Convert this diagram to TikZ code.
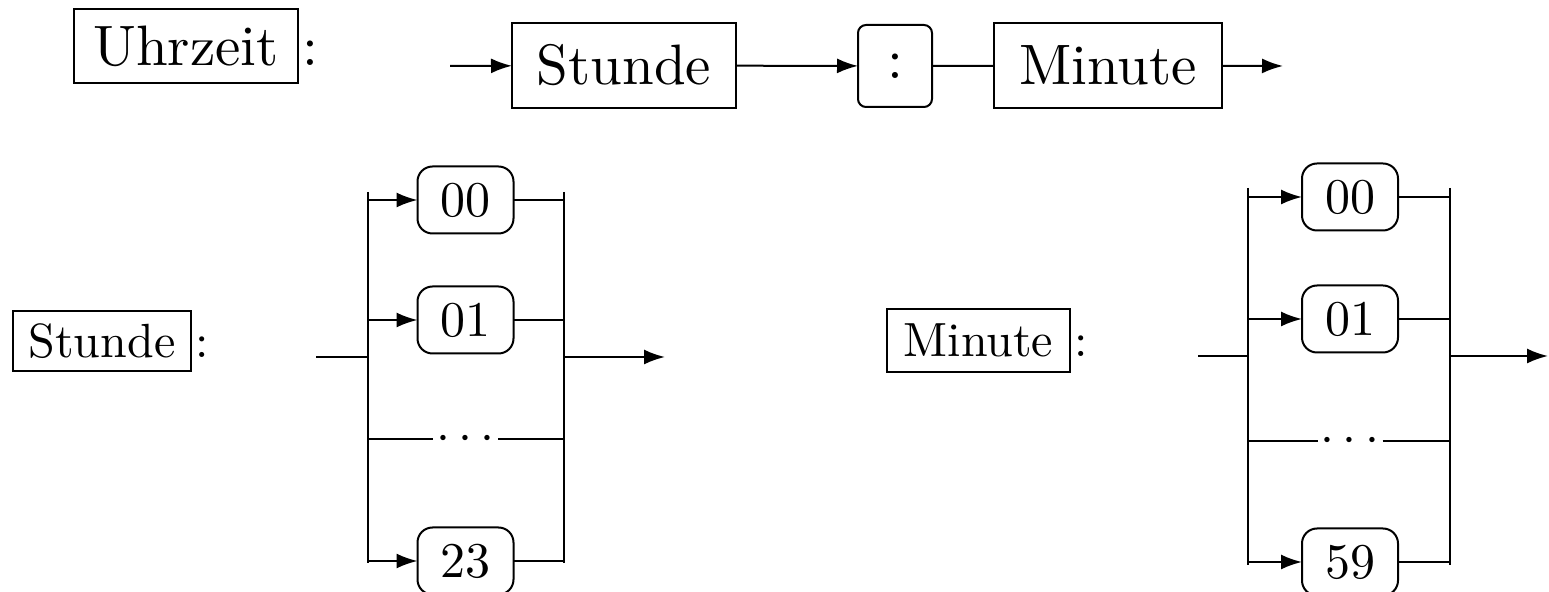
\documentclass[tikz,border=0pt]{standalone}
\usepackage{graphicx}
\usetikzlibrary{arrows.meta,positioning}

% text set at 10pt and scaled up
\newcommand\txtgross[1]{\scalebox{2.85}{\fontsize{10}{12}\selectfont #1}}
\newcommand\txtmittel[1]{\scalebox{2.5}{\fontsize{10}{12}\selectfont #1}}
\newcommand\txtklein[1]{\scalebox{2.4}{\fontsize{10}{12}\selectfont #1}}

\tikzset{
	rulebox/.style = {
		draw, rectangle,
		inner sep=0pt, outer sep=0pt
	},
	nonterm/.style = {
		draw, rectangle,
		minimum height=42.5pt,
		inner sep=0pt, outer sep=0pt
	},
	term/.style = {
		draw, rectangle, rounded corners=7.5pt,
		minimum width=48pt, minimum height=33.5pt,
		inner sep=0pt, outer sep=0pt
	},
	dotsbox/.style = {
		rectangle, minimum width=32.5pt,
		inner sep=0pt, outer sep=0pt
	},
	pfeil/.style = {-{Latex[length=10.5pt,width=7.5pt]}}
}

\begin{document}
\begin{tikzpicture}[x=0.5pt, y=-0.5pt, line width=1pt]
	\useasboundingbox (0,0) rectangle (1549,592);

	% Uhrzeit
	\node[rulebox, minimum width=112pt, minimum height=37pt] (uz) at (186,46) {\txtgross{Uhrzeit}};
	\node[anchor=base west, inner sep=1.5pt] (uzc) at (uz.base east) {\txtgross{:}};
	\coordinate (uin) at (450,66);
	\node[nonterm, minimum width=112pt] (ust) at (624,65.5) {\txtgross{Stunde}};
	\node[nonterm, rounded corners=4pt, minimum width=37pt, minimum height=41pt] (ucol) at (895,66) {\txtgross{:}};
	\node[nonterm, minimum width=114pt] (umin) at (1108,65.5) {\txtgross{Minute}};
	\coordinate (uout) at (1283,66);

	\draw[pfeil] (uin) -- (ust);
	\draw[pfeil] (ust) -- (ucol);
	\draw (ucol) -- (umin);
	\draw[pfeil] (umin) -- (uout);

	% Stunde
	\node[rulebox, minimum width=89pt, minimum height=30pt] (sl) at (102,341) {\txtklein{Stunde}};
	\node[anchor=base west, inner sep=1.5pt] (slc) at (sl.base east) {\txtklein{:}};
	\node[term] (s00) at (465.5,200) {\txtmittel{00}};
	\node[term] (s01) at (465.5,320) {\txtmittel{01}};
	\node[dotsbox] (sdots) at (465.5,439) {\txtmittel{$\cdots$}};
	\node[term] (s23) at (465.5,561) {\txtmittel{23}};
	\coordinate (sin) at (316,357);
	\coordinate (slt) at (368,192);
	\coordinate (slb) at (368,563);
	\coordinate (srt) at (564,192);
	\coordinate (srb) at (564,563);
	\coordinate (sout) at (665,357);

	\draw (slt) -- (slb);
	\draw (srt) -- (srb);
	\draw (sin) -- (sin -| slt);
	\draw[pfeil] (sin -| srt) -- (sout);
	\draw[pfeil] (s00.west -| slt) -- (s00);
	\draw (s00) -- (s00.east -| srt);
	\draw[pfeil] (s01.west -| slt) -- (s01);
	\draw (s01) -- (s01.east -| srt);
	\draw (sdots.west -| slt) -- (sdots);
	\draw (sdots) -- (sdots.east -| srt);
	\draw[pfeil] (s23.west -| slt) -- (s23);
	\draw (s23) -- (s23.east -| srt);

	% Minute
	\node[rulebox, minimum width=91.5pt, minimum height=31.5pt] (ml) at (978.5,340.5) {\txtklein{Minute}};
	\node[anchor=base west, inner sep=1.5pt] (mlc) at (ml.base east) {\txtklein{:}};
	\node[term] (m00) at (1350,197) {\txtmittel{00}};
	\node[term] (m01) at (1350,319) {\txtmittel{01}};
	\node[dotsbox] (mdots) at (1350,441) {\txtmittel{$\cdots$}};
	\node[term] (m59) at (1350,562) {\txtmittel{59}};
	\coordinate (min) at (1198,356);
	\coordinate (mlt) at (1248,188);
	\coordinate (mlb) at (1248,565);
	\coordinate (mrt) at (1450,188);
	\coordinate (mrb) at (1450,565);
	\coordinate (mout) at (1548,356);

	\draw (mlt) -- (mlb);
	\draw (mrt) -- (mrb);
	\draw (min) -- (min -| mlt);
	\draw[pfeil] (min -| mrt) -- (mout);
	\draw[pfeil] (m00.west -| mlt) -- (m00);
	\draw (m00) -- (m00.east -| mrt);
	\draw[pfeil] (m01.west -| mlt) -- (m01);
	\draw (m01) -- (m01.east -| mrt);
	\draw (mdots.west -| mlt) -- (mdots);
	\draw (mdots) -- (mdots.east -| mrt);
	\draw[pfeil] (m59.west -| mlt) -- (m59);
	\draw (m59) -- (m59.east -| mrt);
\end{tikzpicture}
\end{document}
